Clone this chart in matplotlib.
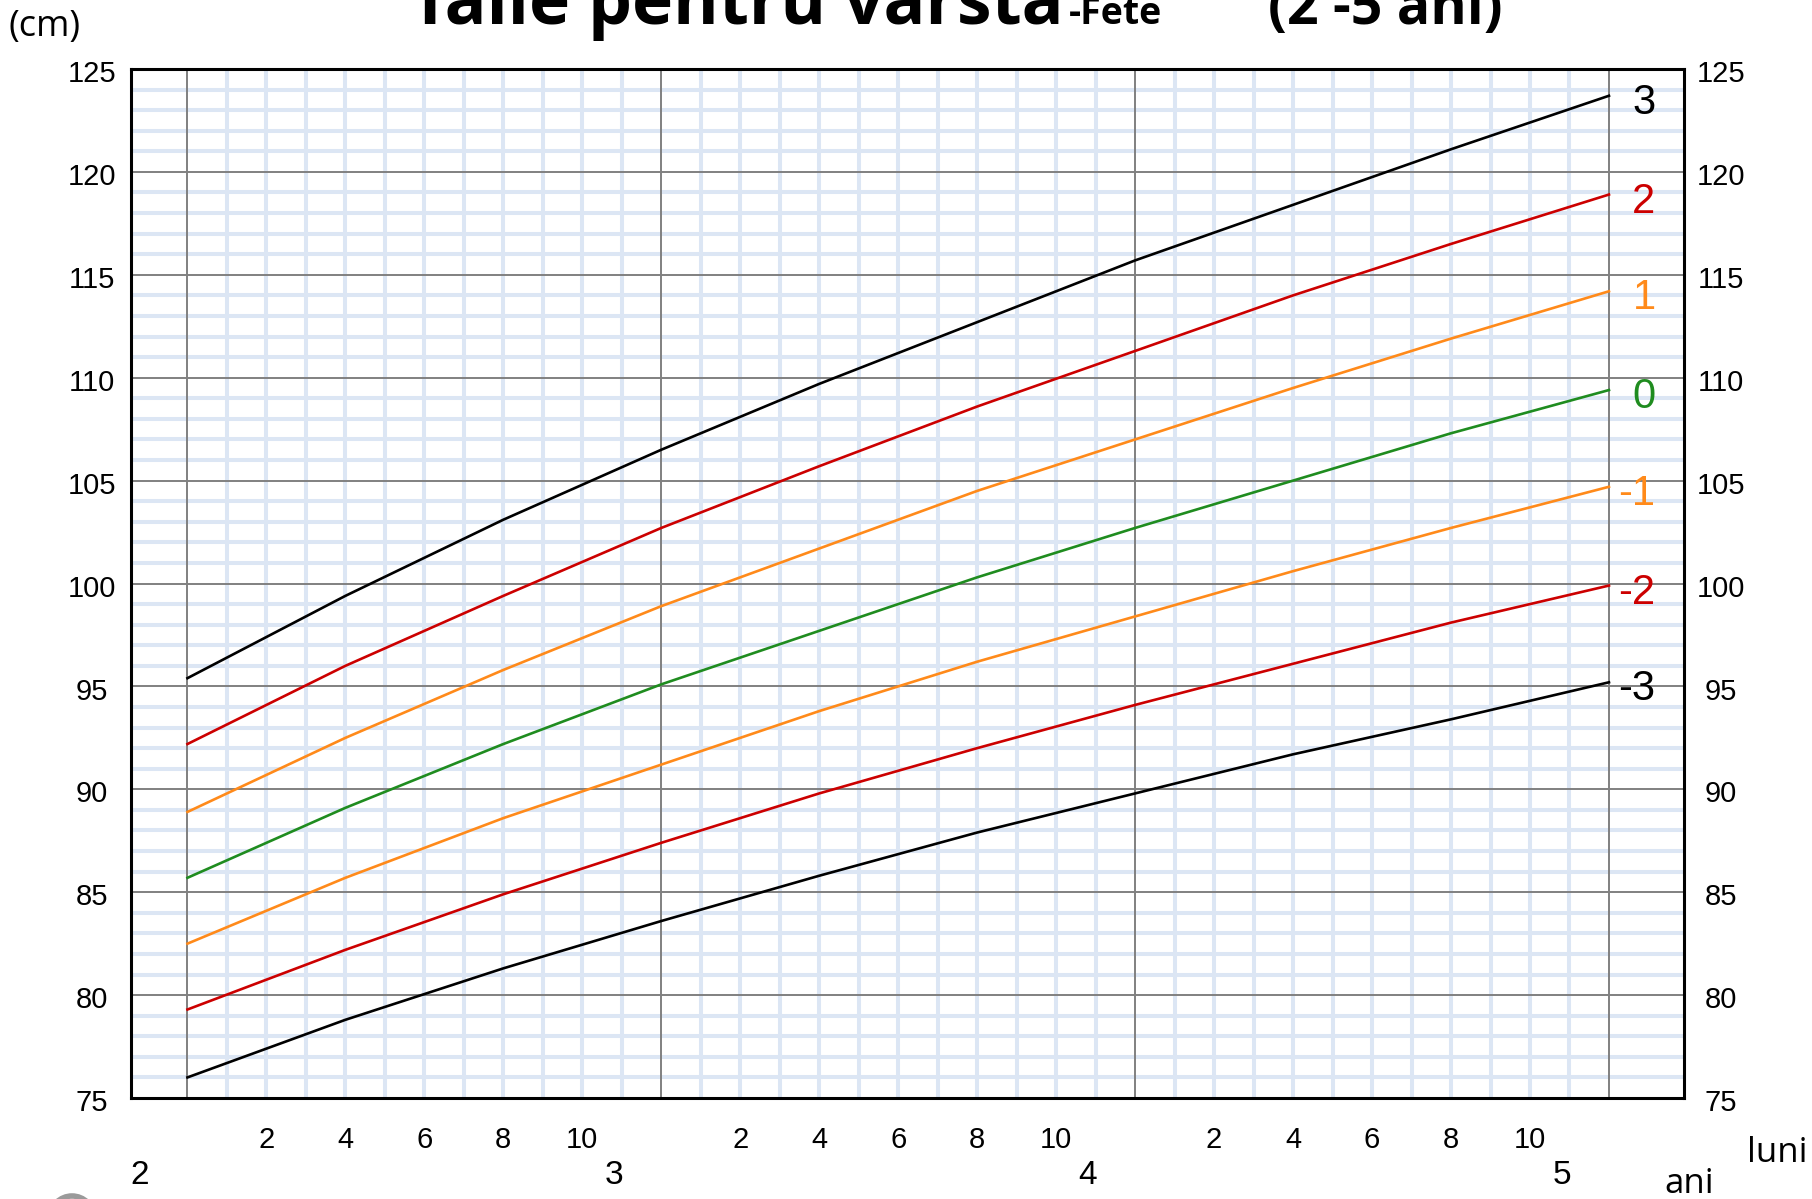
import matplotlib
matplotlib.use("Agg")
import matplotlib.pyplot as plt
from matplotlib.patches import Ellipse

# ---------------- data (WHO height-for-age, girls 2-5 years, cm), every 4 months ----------------
months = [24, 28, 32, 36, 40, 44, 48, 52, 56, 60]
sd_m3 = [76.0, 78.8, 81.3, 83.6, 85.8, 87.9, 89.8, 91.7, 93.4, 95.2]
sd_m2 = [79.3, 82.2, 84.9, 87.4, 89.8, 92.0, 94.1, 96.1, 98.1, 99.9]
sd_m1 = [82.5, 85.7, 88.6, 91.2, 93.8, 96.2, 98.4, 100.6, 102.7, 104.7]
sd_0 = [85.7, 89.1, 92.2, 95.1, 97.7, 100.3, 102.7, 105.0, 107.3, 109.4]
sd_p1 = [88.9, 92.5, 95.8, 98.9, 101.7, 104.5, 107.0, 109.5, 111.9, 114.2]
sd_p2 = [92.2, 96.0, 99.4, 102.7, 105.7, 108.6, 111.3, 114.0, 116.5, 118.9]
sd_p3 = [95.4, 99.4, 103.1, 106.5, 109.7, 112.7, 115.7, 118.4, 121.1, 123.7]

curve_labels = ["3", "2", "1", "0", "-1", "-2", "-3"]
years = [2, 3, 4, 5]
month_ticks = [2, 4, 6, 8, 10]
y_ticks = list(range(75, 126, 5))

# ---------------- styles ----------------
BLACK = "#000000"
RED = "#cc0000"
ORANGE = "#ff8a1a"
GREEN = "#1f8c1f"
LIGHT = "#dce6f4"
GREY = "#808080"
series = [sd_p3, sd_p2, sd_p1, sd_0, sd_m1, sd_m2, sd_m3]
colors = [BLACK, RED, ORANGE, GREEN, ORANGE, RED, BLACK]

plt.rcParams["font.family"] = ["Liberation Sans", "DejaVu Sans"]

W, H = 1812, 1199
fig = plt.figure(figsize=(W / 100, H / 100), dpi=100)
L, R, T, B = 131, 1684, 69, 1098
ax = fig.add_axes([L / W, 1 - B / H, (R - L) / W, (B - T) / H])
ax.set_xlim(22.57, 61.9)
ax.set_ylim(75, 125)

# light grid (1 month, 1 cm)
for m in range(25, 60):
    if m % 12:
        ax.axvline(m, color=LIGHT, lw=2.9, zorder=0)
for v in range(76, 125):
    if v % 5:
        ax.axhline(v, color=LIGHT, lw=2.9, zorder=0)
# grey major grid (years, 5 cm)
for y in years:
    ax.axvline(y * 12, color=GREY, lw=1.4, zorder=1)
for v in y_ticks[1:-1]:
    ax.axhline(v, color=GREY, lw=1.4, zorder=1)

# curves
for vals, c, lab in zip(series, colors, curve_labels):
    ax.plot(months, vals, color=c, lw=1.9, zorder=3)
    ax.text(61.18, vals[-1] - 0.35, lab, color=c, fontsize=30,
            ha="right", va="center", zorder=4)

for s in ax.spines.values():
    s.set_linewidth(2.2)
    s.set_color("black")
    s.set_zorder(5)

# y labels on both sides
ax.set_yticks([])
ytr = ax.get_yaxis_transform()
for v in y_ticks:
    ax.text(-0.0251, v - 0.25, str(v), transform=ytr, ha="center", va="center", fontsize=21)
    ax.text(1.0238, v - 0.25, str(v), transform=ytr, ha="center", va="center", fontsize=21)

# month ticks
xt, xl = [], []
for y in years[:-1]:
    for m in month_ticks:
        xt.append(y * 12 + m)
        xl.append(str(m))
ax.set_xticks(xt)
ax.set_xticklabels(xl)
ax.tick_params(axis="x", length=0, labelsize=21, pad=20)

# year labels
for y in years:
    ax.text(y * 12 - 1.2, -0.0758, str(y), transform=ax.get_xaxis_transform(),
            ha="center", va="center", fontsize=24)

fig.text(1747 / W, 1 - 1162 / H, "luni", fontsize=25, family="Open Sans",
         ha="left", va="baseline")
fig.text(1689 / W, 1 - 1193 / H, "ani", fontsize=25, family="Open Sans",
         ha="center", va="baseline")
fig.text(9 / W, 1 - 27 / H, "(cm)", fontsize=26, family="Open Sans",
         ha="left", va="center")

# title (top clipped like the reference)
fig.text(410 / W, 1 - 24 / H, "Talie pentru vârstă", fontsize=50, family="Open Sans",
         fontweight="bold", ha="left", va="baseline")
fig.text(1069 / W, 1 - 24 / H, "-Fete", fontsize=27, family="Open Sans",
         fontweight="bold", ha="left", va="baseline")
fig.text(1268 / W, 1 - 24 / H, "(2 -5 ani)", fontsize=40, family="Open Sans",
         fontweight="bold", ha="left", va="baseline")

# partial grey ring at bottom-left edge (as in the reference screenshot)
fig.patches.append(Ellipse((72 / W, 1 - 1218 / H), 44 / W, 44 / H,
                           transform=fig.transFigure, fill=False,
                           edgecolor="#9a9a9a", lw=4))

fig.savefig("out.png", dpi=100, facecolor="white")
